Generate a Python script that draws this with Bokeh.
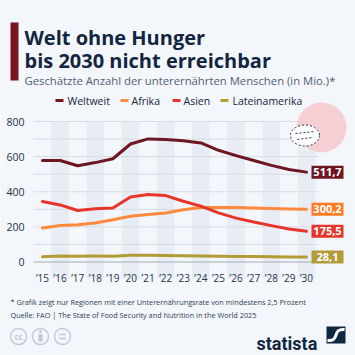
from bokeh.plotting import figure
from bokeh.models import Range1d, LinearAxis, FixedTicker
from bokeh.core.properties import value
from bokeh.embed import file_html
from bokeh.resources import INLINE

# ---------------- data ----------------
years = list(range(2015, 2031))
year_labels = ["’15", "’16", "’17", "’18", "’19", "’20", "’21", "’22",
               "’23", "’24", "’25", "’26", "’27", "’28", "’29", "’30"]
weltweit = [578, 578, 548, 566, 588, 672, 701, 697, 691, 678, 636, 606, 578, 550, 527, 511.7]
afrika = [194, 208, 212, 222, 240, 260, 270, 279, 298, 310, 311, 310, 308, 305, 302, 300.2]
asien = [344, 325, 293, 303, 307, 370, 384, 378, 346, 318, 280, 250, 228, 207, 188, 175.5]
lateinamerika = [30, 34, 33, 34, 33, 38, 38, 37, 35, 34, 33, 32, 31, 30, 29, 28.1]
series_names = ["Weltweit", "Afrika", "Asien", "Lateinamerika"]
y_ticks = [0, 200, 400, 600, 800]
grid_vals = [100, 200, 300, 400, 500, 600, 700, 800]

title_lines = ["Welt ohne Hunger", "bis 2030 nicht erreichbar"]
subtitle = "Geschätzte Anzahl der unterernährten Menschen (in Mio.)*"
note = "* Grafik zeigt nur Regionen mit einer Unterernährungsrate von mindestens 2,5 Prozent"
source = "Quelle: FAO | The State of Food Security and Nutrition in the World 2025"

# ---------------- style ----------------
BG = "#f3f6fa"
NAVY = "#13263f"
colors = ["#6e1622", "#ff8a3d", "#e8352b", "#b59b36"]
box_colors = ["#6e1622", "#ff7a22", "#e8352b", "#b39a3a"]
FONT = value("Open Sans")

W = H = 355
# pixel -> data mapping (frame covers the whole canvas)
PX_PER_YEAR = 17.6
X0_PX = 42.0          # pixel of 2015
PX_PER_UNIT = 0.175625
Y0_PX = 261.5        # pixel of value 0

x_start = 2015 - X0_PX / PX_PER_YEAR
x_end = 2015 + (W - X0_PX) / PX_PER_YEAR
y_end = Y0_PX / PX_PER_UNIT
y_start = (Y0_PX - H) / PX_PER_UNIT

def xd(px):
    return 2015 + (px - X0_PX) / PX_PER_YEAR

def yd(py):
    return (Y0_PX - py) / PX_PER_UNIT

p = figure(width=W, height=H, output_backend="svg", toolbar_location=None,
           x_range=Range1d(x_start, x_end), y_range=Range1d(y_start, y_end),
           x_axis_type=None, y_axis_type=None, min_border=0,
           background_fill_color=BG, border_fill_color=BG, outline_line_color=None)
p.grid.visible = False
p.extra_x_ranges = {"px": Range1d(0, W)}
p.extra_y_ranges = {"px": Range1d(H, 0)}
PX = dict(x_range_name="px", y_range_name="px")

# ----- alternating bands -----
band_years = [y for y in years if (y - 2015) % 2 == 1]
p.vbar(x=band_years, width=1.0, top=800, bottom=yd(278), fill_color="#e8edf5", line_color=None)

# ----- grid lines -----
gx0, gx1 = xd(33), xd(318)
p.segment(x0=[gx0] * len(grid_vals), x1=[gx1] * len(grid_vals), y0=grid_vals, y1=grid_vals,
          line_color="#d6dce4", line_width=1)
p.segment(x0=[gx0], x1=[gx1], y0=[0], y1=[0], line_color="#a3abb6", line_width=1)

# ----- decorative circle -----
p.circle(x=[321], y=[127], radius=25, fill_color="#f6cfd3", line_color=None, **PX)
p.ellipse(x=[304.5], y=[135], width=29, height=21, fill_color="white", line_color="#26344a",
          line_width=1, line_dash="2 2", **PX)
p.segment(x0=[295, 297], x1=[314, 312], y0=[133, 139], y1=[131, 137], line_color="#26344a",
          line_width=1, line_dash="2 2", **PX)

# ----- lines -----
all_series = [weltweit, afrika, asien, lateinamerika]
for vals, c in zip(all_series, colors):
    p.line(years, vals, line_color=c, line_width=3, line_join="round", line_cap="round")

# ----- end value boxes -----
bx0, bx1 = xd(311), xd(343)
half = 6.5 / PX_PER_UNIT
for vals, c in zip(all_series, box_colors):
    v = vals[-1]
    p.quad(left=[bx0], right=[bx1], top=[v + half], bottom=[v - half], fill_color=c, line_color=None)
    p.text(x=[(bx0 + bx1) / 2], y=[v], text=[f"{v:.1f}".replace(".", ",")], text_color="white",
           text_font=FONT, text_font_style="bold", text_font_size="11px",
           text_align="center", text_baseline="middle")

# ----- axes -----
yaxis = LinearAxis(ticker=FixedTicker(ticks=y_ticks), fixed_location=xd(33))
yaxis.axis_line_color = None
yaxis.major_tick_line_color = None
yaxis.minor_tick_line_color = None
yaxis.major_label_standoff = 3
yaxis.major_label_text_font = "Open Sans"
yaxis.major_label_text_font_size = "10.5px"
yaxis.major_label_text_color = "#22334a"
p.add_layout(yaxis, "left")

xaxis = LinearAxis(ticker=FixedTicker(ticks=years), fixed_location=0,
                   major_label_overrides={y: l for y, l in zip(years, year_labels)})
xaxis.axis_line_color = None
xaxis.major_tick_line_color = None
xaxis.minor_tick_line_color = None
xaxis.major_label_standoff = 3
xaxis.major_label_text_font = "Open Sans"
xaxis.major_label_text_font_size = "10px"
xaxis.major_label_text_color = "#22334a"
p.add_layout(xaxis, "below")

# ----- header -----
p.quad(left=[10], right=[18], top=[22], bottom=[80], fill_color="#7a1621", line_color=None, **PX)
p.text(x=[24, 24], y=[36.5, 60], text=title_lines, text_color=NAVY, text_font=FONT,
       text_font_style="bold", text_font_size="20px", text_baseline="alphabetic", **PX)
p.text(x=[24], y=[80], text=[subtitle], text_color="#4f5f74", text_font=FONT,
       text_font_size="11.3px", text_baseline="alphabetic", **PX)

# ----- legend -----
leg_mx = [55, 120, 172, 220]
leg_tx = [67, 131, 183, 232]
p.segment(x0=leg_mx, x1=[m + 8 for m in leg_mx], y0=[100] * 4, y1=[100] * 4,
          line_color=colors, line_width=3, **PX)
p.text(x=leg_tx, y=[100] * 4, text=series_names, text_color=NAVY, text_font=FONT,
       text_font_size="10.5px", text_baseline="middle", **PX)

# ----- footer -----
p.text(x=[10, 10], y=[301, 314], text=[note, source], text_color="#2d3e55", text_font=FONT,
       text_font_size="7.3px", text_baseline="alphabetic", **PX)
cc_x = [18, 40, 62]
p.circle(x=cc_x, y=[336] * 3, radius=8, fill_color=None, line_color="#c3cad3", line_width=1.5, **PX)
p.text(x=[18], y=[336], text=["cc"], text_color="#c3cad3", text_font=FONT, text_font_style="bold",
       text_font_size="8px", text_align="center", text_baseline="middle", **PX)
p.circle(x=[40], y=[331], radius=1.5, fill_color="#c3cad3", line_color=None, **PX)
p.quad(left=[38], right=[42], top=[333.5], bottom=[341], fill_color="#c3cad3", line_color=None, **PX)
p.segment(x0=[58.5, 58.5], x1=[65.5, 65.5], y0=[334, 338], y1=[334, 338],
          line_color="#c3cad3", line_width=1.5, **PX)

p.text(x=[256], y=[343], text=["statista"], text_color="#0f2741", text_font=value("Roboto"),
       text_font_style="bold", text_font_size="18px", text_baseline="alphabetic", **PX)
p.quad(left=[326], right=[345], top=[326], bottom=[343], fill_color="#0f2741", line_color=None, **PX)
p.bezier(x0=[327], y0=[340], x1=[344], y1=[329], cx0=[340], cy0=[341], cx1=[331], cy1=[328],
         line_color="white", line_width=3, **PX)

open("out.html", "w").write(file_html(p, INLINE))
